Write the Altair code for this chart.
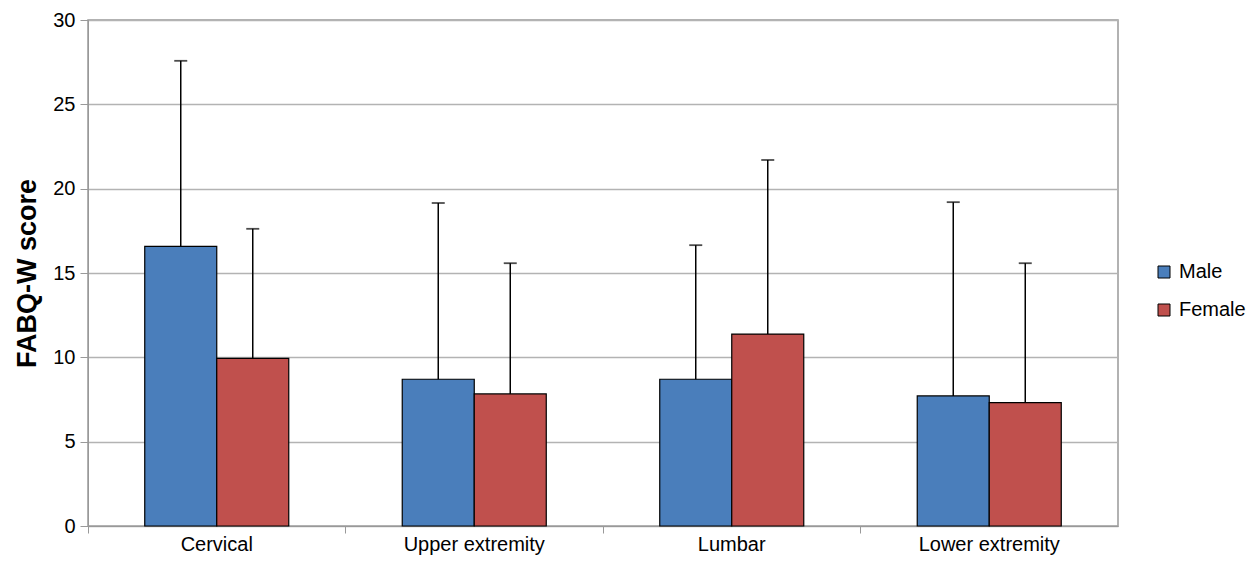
import altair as alt
import pandas as pd

categories = ["Cervical", "Upper extremity", "Lumbar", "Lower extremity"]
groups = ["Male", "Female"]
male_mean = [16.58, 8.70, 8.70, 7.71]
male_upper = [27.58, 19.15, 16.65, 19.20]
female_mean = [9.94, 7.83, 11.38, 7.32]
female_upper = [17.62, 15.58, 21.70, 15.58]
colors = ["#4A7EBB", "#C0504D"]
y_ticks = [0, 5, 10, 15, 20, 25, 30]

rows = []
for i, c in enumerate(categories):
    rows.append({"region": c, "sex": "Male", "mean": male_mean[i], "upper": male_upper[i]})
    rows.append({"region": c, "sex": "Female", "mean": female_mean[i], "upper": female_upper[i]})
df = pd.DataFrame(rows)

FONT = "Liberation Sans"

x_enc = alt.X("region:N", sort=categories,
              scale=alt.Scale(paddingInner=0, paddingOuter=0),
              axis=alt.Axis(title=None, bandPosition=0,
                            labelFontSize=20, labelFont=FONT, labelColor="#000000",
                            labelPadding=1, tickSize=7, tickColor="#999999",
                            domainColor="#999999", labelAngle=0, grid=False))
xo_enc = alt.XOffset("sex:N", sort=groups,
                     scale=alt.Scale(paddingInner=0, paddingOuter=0.788))
y_enc = alt.Y("mean:Q", scale=alt.Scale(domain=[0, 30], nice=False),
              axis=alt.Axis(title="FABQ-W score", values=y_ticks,
                            titleFontSize=27, titleFont=FONT, titleFontWeight="bold",
                            titleColor="#000000", titlePadding=11,
                            labelFontSize=20, labelFont=FONT, labelColor="#000000",
                            labelPadding=5, tickSize=8, tickColor="#999999",
                            domainColor="#999999", gridColor="#B3B3B3", gridWidth=1.5))

bars = alt.Chart(df).mark_bar(stroke="#000000", strokeWidth=1.2).encode(
    x=x_enc, xOffset=xo_enc, y=y_enc,
    color=alt.Color("sex:N", sort=groups,
                    scale=alt.Scale(domain=groups, range=colors),
                    legend=alt.Legend(title=None, orient="none", legendX=1066, legendY=242,
                                      symbolType="square", symbolSize=144,
                                      symbolStrokeColor="#000000", symbolStrokeWidth=1,
                                      labelFontSize=20, labelFont=FONT, labelColor="#000000",
                                      rowPadding=18, padding=0, labelOffset=5, labelLimit=200)),
)

rules = alt.Chart(df).mark_rule(color="#000000", strokeWidth=1.5).encode(
    x=x_enc, xOffset=xo_enc, y="mean:Q", y2="upper:Q"
)

caps = alt.Chart(df).mark_tick(color="#000000", thickness=1.8, size=13, orient="horizontal").encode(
    x=x_enc, xOffset=xo_enc, y="upper:Q"
)

chart = alt.layer(bars, rules, caps).properties(
    width=1030, height=506,
    autosize=alt.AutoSizeParams(type="none"),
    padding={"left": 80, "top": 12, "right": 128, "bottom": 29},
    background="#FFFFFF",
).configure_view(stroke="#999999", strokeWidth=1.5)

chart.save("out.html", embed_options={"renderer": "svg", "actions": False})
